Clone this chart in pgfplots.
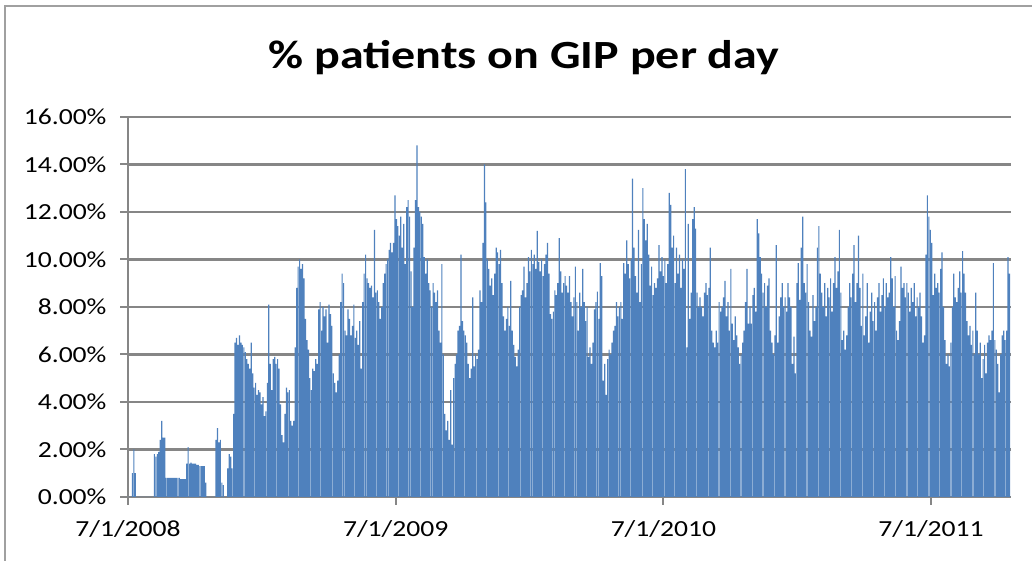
\documentclass[border=0pt]{standalone}
\usepackage{pgfplots}
\usepackage{pgfplotstable}
\pgfplotsset{compat=1.18}
\usepackage{fontspec}
\setmainfont{Carlito}[FakeStretch=1.2]
\definecolor{xlblue}{RGB}{79,129,189}
\definecolor{xlgrid}{RGB}{134,134,134}
\definecolor{xlframe}{RGB}{160,160,160}

\pgfplotstableread[row sep=\\, header=false]{
0\\0\\0\\1.0\\2.0\\1.0\\0\\0\\0\\0\\
0\\0\\0\\0\\0\\0\\0\\0\\1.8\\1.7\\
1.8\\1.9\\2.4\\3.2\\2.5\\2.5\\0.8\\0.8\\0.8\\0.8\\
0.8\\0.8\\0.8\\0.8\\0.8\\0.8\\0.75\\0.75\\0.75\\0.75\\
1.4\\2.1\\1.4\\1.45\\1.4\\1.4\\1.4\\1.35\\1.35\\1.3\\
1.3\\1.3\\1.3\\0.6\\0\\0\\0\\0\\0\\0\\
2.4\\2.9\\2.3\\2.4\\0.6\\0.5\\0\\0\\1.2\\1.8\\
1.7\\1.2\\3.5\\6.5\\6.7\\6.4\\6.8\\6.5\\6.4\\6.3\\
6.1\\5.8\\5.6\\5.4\\6.5\\5.2\\4.6\\4.8\\4.3\\4.5\\
4.4\\3.9\\4.2\\3.4\\3.6\\4.8\\8.1\\5.6\\4.5\\5.8\\
5.9\\5.6\\5.8\\5.4\\3.9\\2.6\\2.3\\3.5\\4.6\\4.4\\
4.5\\3.2\\3.0\\3.2\\6.3\\8.8\\9.7\\10.0\\9.6\\9.8\\
9.2\\7.5\\6.6\\6.2\\5.0\\4.5\\5.4\\5.3\\5.8\\5.6\\
7.9\\8.2\\7.0\\8.0\\7.6\\7.9\\6.5\\8.1\\7.7\\7.2\\
5.2\\4.8\\4.4\\4.9\\6.0\\8.2\\9.4\\9.0\\7.0\\6.8\\
7.9\\7.5\\6.8\\7.2\\8.1\\6.7\\7.0\\6.4\\7.4\\5.4\\
8.2\\9.4\\10.2\\9.2\\9.0\\8.8\\8.9\\8.4\\11.25\\8.6\\
8.7\\8.2\\7.5\\8.0\\9.0\\9.4\\9.8\\10.0\\10.4\\10.7\\
10.3\\10.7\\12.7\\11.7\\11.4\\11.0\\11.8\\10.5\\11.5\\9.8\\
12.2\\12.5\\11.8\\9.5\\8.0\\10.5\\12.5\\14.8\\12.2\\12.0\\
11.8\\11.5\\10.1\\9.4\\10.0\\9.0\\8.7\\8.0\\9.0\\8.6\\
8.2\\8.7\\7.0\\6.5\\9.8\\6.0\\3.5\\2.8\\3.2\\2.4\\
4.5\\2.2\\5.0\\5.6\\6.0\\7.0\\7.2\\10.2\\7.4\\7.0\\
6.8\\6.5\\5.6\\5.0\\5.4\\8.4\\5.5\\6.0\\5.8\\6.2\\
8.7\\8.2\\10.7\\14.0\\12.4\\10.0\\9.6\\8.9\\9.2\\8.5\\
9.4\\10.5\\10.3\\9.8\\10.4\\9.0\\7.6\\7.0\\7.5\\8.0\\
7.2\\9.1\\7.0\\6.4\\5.9\\5.5\\6.2\\8.0\\8.5\\8.7\\
9.7\\8.4\\9.0\\10.1\\9.5\\10.4\\9.8\\10.2\\9.6\\11.2\\
9.9\\9.5\\10.0\\9.3\\9.8\\10.2\\10.7\\9.4\\7.7\\7.5\\
7.8\\8.7\\8.5\\9.0\\10.9\\9.5\\8.6\\9.0\\9.3\\8.9\\
8.6\\9.3\\8.2\\7.6\\8.4\\9.7\\8.2\\7.0\\8.6\\8.0\\
9.6\\8.2\\7.4\\8.0\\5.9\\6.3\\5.6\\6.5\\7.9\\8.2\\
8.65\\7.5\\9.85\\9.3\\4.9\\5.6\\4.3\\5.8\\6.2\\6.0\\
6.5\\7.0\\7.2\\8.2\\7.6\\8.0\\8.2\\7.5\\9.85\\9.4\\
10.8\\9.8\\9.2\\10.0\\13.4\\10.5\\9.3\\8.6\\11.25\\8.2\\
9.8\\13.0\\11.7\\10.8\\11.5\\10.2\\8.9\\9.7\\8.5\\9.0\\
8.8\\9.2\\10.6\\9.5\\10.1\\9.3\\10.0\\9.0\\9.8\\12.8\\
12.3\\10.5\\11.0\\9.0\\10.5\\9.4\\10.2\\8.8\\10.0\\9.6\\
13.8\\6.3\\11.5\\7.5\\8.6\\11.7\\12.2\\11.3\\8.6\\8.0\\
8.4\\8.0\\7.6\\8.6\\9.0\\8.5\\8.8\\10.5\\7.0\\6.5\\
6.3\\7.0\\6.5\\8.2\\7.8\\8.0\\8.4\\9.1\\7.6\\8.2\\
7.0\\9.6\\7.3\\6.6\\7.6\\6.8\\6.3\\5.6\\6.0\\6.5\\
7.0\\8.2\\9.6\\7.3\\8.0\\7.3\\8.5\\8.8\\7.8\\11.7\\
11.1\\10.1\\9.4\\8.6\\9.0\\8.0\\8.9\\9.2\\7.0\\6.5\\
6.0\\6.8\\10.6\\6.5\\7.6\\8.4\\9.0\\8.0\\8.4\\7.8\\
9.0\\8.4\\8.0\\5.6\\6.75\\5.2\\9.0\\9.85\\8.3\\10.5\\
11.8\\9.0\\8.6\\9.8\\8.2\\7.0\\6.75\\8.5\\7.4\\8.0\\
10.5\\11.4\\9.4\\8.6\\8.0\\9.0\\7.6\\8.8\\8.4\\9.2\\
7.8\\9.0\\10.1\\8.8\\9.5\\11.25\\8.6\\6.6\\7.0\\6.2\\
6.8\\8.0\\9.0\\8.4\\9.4\\10.6\\8.2\\9.0\\11.0\\8.8\\
7.2\\9.4\\6.8\\7.6\\9.0\\6.5\\7.8\\8.6\\7.4\\8.2\\
7.0\\8.4\\9.0\\7.8\\8.5\\9.2\\8.0\\9.0\\8.4\\8.6\\
10.1\\9.2\\8.0\\9.3\\7.0\\6.6\\7.4\\9.7\\8.8\\9.0\\
8.4\\9.0\\8.6\\7.8\\8.8\\8.2\\9.0\\7.6\\8.4\\8.0\\
8.6\\7.6\\6.5\\6.8\\10.2\\12.7\\11.8\\11.25\\10.7\\8.5\\
9.4\\8.8\\9.0\\8.6\\9.6\\10.3\\8.0\\6.6\\5.6\\6.0\\
5.5\\6.5\\8.0\\9.4\\8.4\\8.2\\8.8\\9.5\\8.6\\10.35\\
9.4\\8.6\\7.4\\6.8\\7.2\\6.4\\7.0\\6.0\\8.6\\7.0\\
6.0\\6.5\\5.0\\5.8\\6.4\\5.2\\6.5\\6.8\\6.6\\7.0\\
9.85\\6.6\\6.2\\5.6\\4.4\\6.0\\6.8\\7.0\\6.6\\7.0\\
10.1\\9.4\\
}\gipdata

\begin{document}
\begin{tikzpicture}[x=1pt,y=1pt]
\path[use as bounding box] (0,0) rectangle (1032,561);
\draw[xlframe, line width=2pt] (5,-5) -- (5,555) -- (1040,555);
\node[font=\bfseries\fontsize{40}{45}\selectfont, anchor=center] at (524,503) {\% patients on GIP per day};
\begin{axis}[
  at={(128pt,64pt)}, anchor=south west,
  scale only axis, width=883pt, height=380pt,
  xmin=0, xmax=1204, ymin=0, ymax=16,
  ytick={0,2,...,16},
  xtick={0,365,730,1095},
  xticklabels={7/1/2008,7/1/2009,7/1/2010,7/1/2011},
  axis x line*=bottom, axis y line*=left,
  axis line style={-, xlgrid, line width=2.6pt},
  ymajorgrids, grid style={xlgrid, line width=2.2pt},
  tick align=outside, major tick length=8pt,
  tick style={xlgrid, line width=2pt},
  ticklabel style={font=\fontsize{23}{25}\selectfont, text=black},
  yticklabel={\pgfmathprintnumber[fixed,fixed zerofill,precision=2,assume math mode=true]{\tick}\%},
  yticklabel style={xshift=-10pt},
  xticklabel style={yshift=-12pt},
  clip=false,
]
\addplot[ybar, bar width=1.6, bar shift=0pt, fill=xlblue, draw=none]
  table[x expr=\coordindex*2, y index=0] {\gipdata};
\end{axis}
\end{tikzpicture}
\end{document}
